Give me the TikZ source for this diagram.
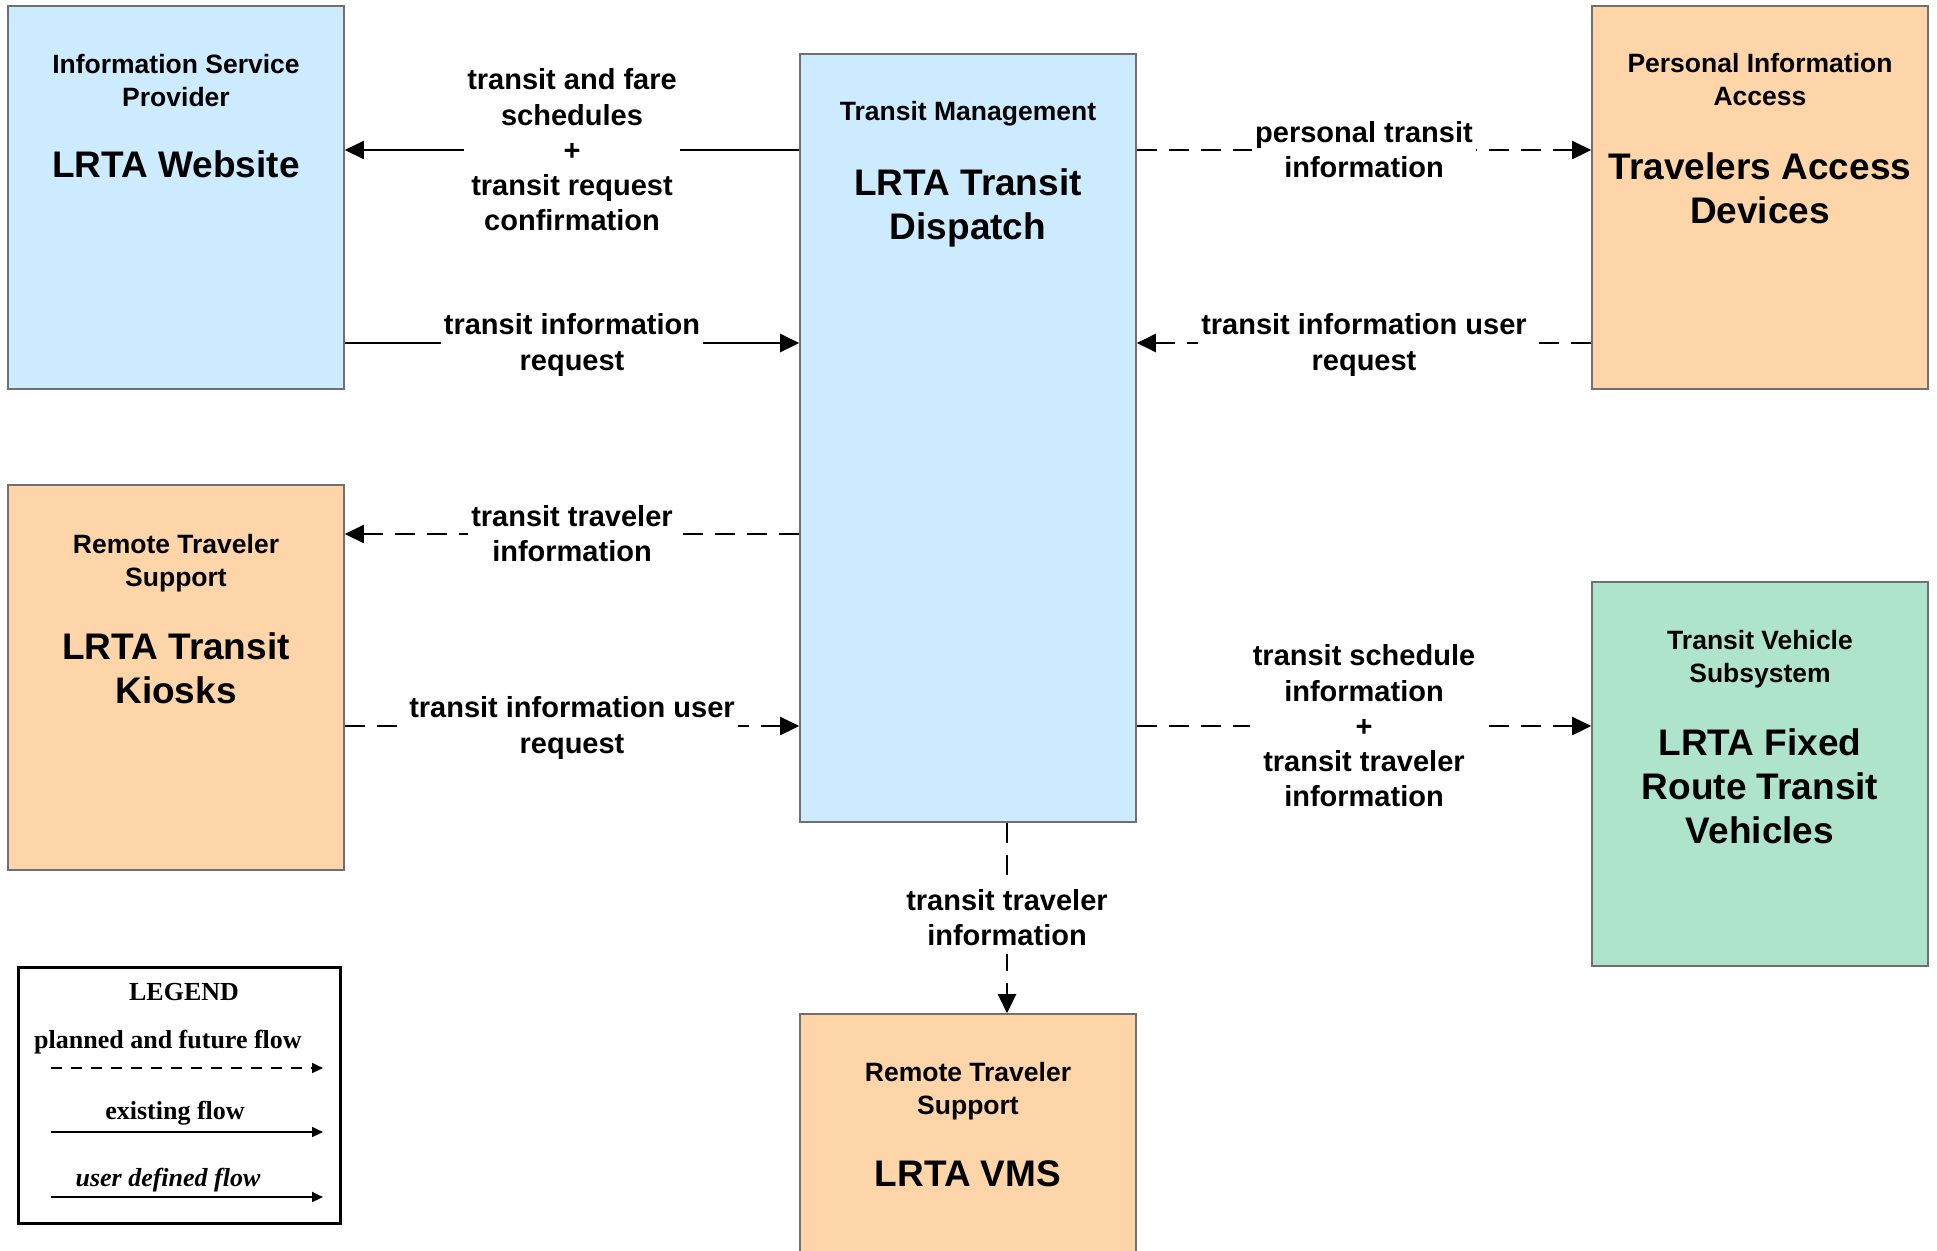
\documentclass[tikz,border=0pt]{standalone}
\usepackage{fontspec}
\setmainfont{Liberation Sans}
\newfontfamily\legendfont{Liberation Serif}
\usetikzlibrary{arrows.meta}
\definecolor{boxblue}{HTML}{CCEBFF}
\definecolor{boxpeach}{HTML}{FDD5A8}
\definecolor{boxgreen}{HTML}{AEE4CC}
\definecolor{boxedge}{HTML}{707070}
\newcommand\fsmall{\fontsize{13.25pt}{16.5pt}\selectfont\bfseries}
\newcommand\fbig{\fontsize{18.5pt}{22pt}\selectfont\bfseries}
\newcommand\flab{\fontsize{14.5pt}{17.6pt}\selectfont\bfseries}
\newcommand\fleg{\legendfont\fontsize{13pt}{15pt}\selectfont\bfseries}
\begin{document}
\begin{tikzpicture}[x=0.5pt,y=-0.5pt,
  box/.style={draw=boxedge, line width=0.8pt, minimum width=168pt, inner sep=0pt},
  small/.style={align=center, font=\fsmall, inner sep=0pt},
  big/.style={align=center, font=\fbig, inner sep=0pt},
  lab/.style={align=center, font=\flab, fill=white, inner xsep=1.5pt, inner ysep=0pt},
  flow/.style={line width=1.2pt, -{Triangle[length=9.5pt,width=9pt]}},
  dashflow/.style={dash pattern=on 10pt off 6pt},
  legflow/.style={line width=1pt, -{Triangle[length=5.5pt,width=5pt]}},
  legtext/.style={font=\fleg, inner sep=0pt}]
\useasboundingbox (0,0) rectangle (1937,1250);
\clip (0,0) rectangle (1937,1250);
\fill[white] (0,0) rectangle (1937,1250);

% boxes
\node[box, fill=boxblue, minimum height=191.5pt] (isp) at (176,197.5) {};
\node[box, fill=boxblue, minimum height=384pt] (central) at (968,438) {};
\node[box, fill=boxpeach, minimum height=191.5pt] (pia) at (1760,197.5) {};
\node[box, fill=boxpeach, minimum height=192.5pt] (kiosk) at (176,677.5) {};
\node[box, fill=boxgreen, minimum height=192pt] (tvs) at (1760,774) {};
\node[box, fill=boxpeach, minimum height=126pt] (vms) at (968,1140) {};

% box texts
\node[small] (ispT) at (176,81) {Information Service\\Provider};
\node[big] (ispB) at (176,164) {LRTA Website};
\node[small] (cenT) at (968,114) {Transit Management};
\node[big] (cenB) at (968,208) {LRTA Transit\\Dispatch};
\node[small] (piaT) at (1760,80) {Personal Information\\Access};
\node[big] (piaB) at (1760,188) {Travelers Access\\Devices};
\node[small] (kioT) at (176,563) {Remote Traveler\\Support};
\node[big] (kioB) at (176,668) {LRTA Transit\\Kiosks};
\node[small] (tvsT) at (1760,659) {Transit Vehicle\\Subsystem};
\node[big] (tvsB) at (1760,786) {LRTA Fixed\\Route Transit\\Vehicles};
\node[small] (vmsT) at (968,1091) {Remote Traveler\\Support};
\node[big] (vmsB) at (968,1174) {LRTA VMS};

% levels
\coordinate (yA) at (0,150);
\coordinate (yB) at (0,343);
\coordinate (yC) at (0,534);
\coordinate (yD) at (0,726);
\coordinate (xV) at (1007,0);

% connectors
\draw[flow] (central.west |- yA) -- (isp.east |- yA)
  node[lab, midway] {transit and fare\\schedules\\+\\transit request\\confirmation};
\draw[flow] (isp.east |- yB) -- (central.west |- yB)
  node[lab, midway, yshift=-1pt] {transit information\\request};
\draw[flow, dashflow] (central.east |- yA) -- (pia.west |- yA)
  node[lab, midway] {personal transit\\information};
\draw[flow, dashflow] (pia.west |- yB) -- (central.east |- yB)
  node[lab, midway, yshift=-1pt] {transit information user\\request};
\draw[flow, dashflow] (central.west |- yC) -- (kiosk.east |- yC)
  node[lab, midway] {transit traveler\\information};
\draw[flow, dashflow] (kiosk.east |- yD) -- (central.west |- yD)
  node[lab, midway, yshift=-1pt] {transit information user\\request};
\draw[flow, dashflow] (central.east |- yD) -- (tvs.west |- yD)
  node[lab, midway] {transit schedule\\information\\+\\transit traveler\\information};
\draw[flow, dashflow] (central.south -| xV) -- (vms.north -| xV)
  node[lab, midway, inner ysep=4pt] {transit traveler\\information};

% legend
\node[draw, line width=1.5pt, minimum width=161pt, minimum height=128pt, inner sep=0pt] (legend) at (179,1095) {};
\node[legtext] (legT) at (184,992) {LEGEND};
\node[legtext] (leg1) at (168,1042) {planned and future flow};
\node[legtext] (leg2) at (175,1113) {existing flow};
\node[legtext, font=\fleg\itshape] (leg3) at (168,1180) {user defined flow};
\coordinate (l1s) at (51,1068); \coordinate (l1e) at (323,1068);
\coordinate (l2s) at (51,1132); \coordinate (l2e) at (323,1132);
\coordinate (l3s) at (51,1197); \coordinate (l3e) at (323,1197);
\draw[legflow, dash pattern=on 5.5pt off 4.5pt] (l1s) -- (l1e);
\draw[legflow] (l2s) -- (l2e);
\draw[legflow] (l3s) -- (l3e);
\end{tikzpicture}
\end{document}
